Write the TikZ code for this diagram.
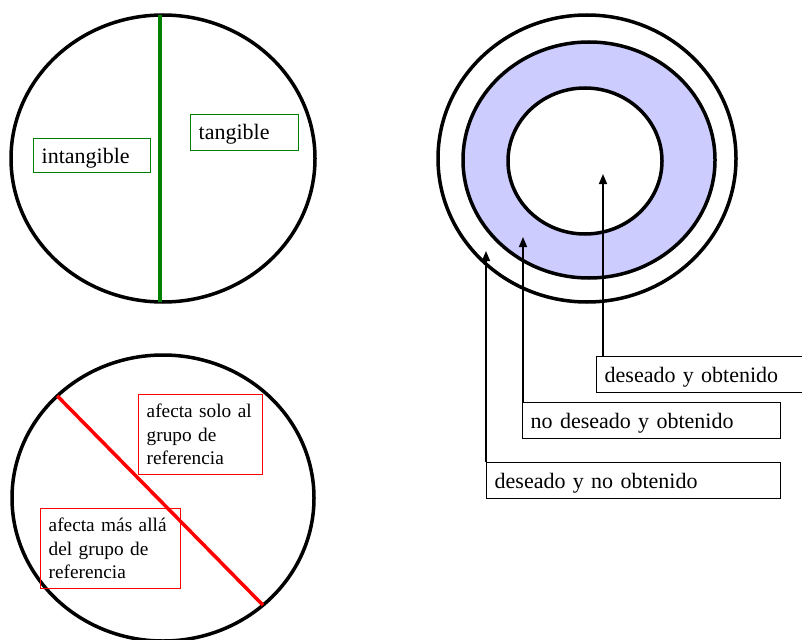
\documentclass[tikz,border=0pt]{standalone}
\usepackage{fontspec}
\setmainfont{Liberation Serif}
\usetikzlibrary{arrows.meta,shapes.geometric}
\definecolor{lila}{HTML}{CCCCFF}
\definecolor{verde}{HTML}{008000}
\begin{document}
\begin{tikzpicture}[x=1pt,y=-1pt,
    circ/.style={draw, ellipse, line width=3.5pt, inner sep=0pt, outer sep=0pt},
    caja/.style={draw, anchor=north west, line width=1.4pt, inner xsep=8pt, inner ysep=0pt, align=left, text height=20pt, text depth=4pt, font=\fontsize{22}{26}\selectfont},
    cajaroja/.style={draw=red, anchor=north west, line width=1.4pt, inner xsep=8pt, inner ysep=0pt, align=left, minimum height=80pt, font=\fontsize{19.3}{23.5}\selectfont},
    flecha/.style={line width=1.6pt, -{Triangle[length=10pt,width=8pt]}}]
    \useasboundingbox (0,0) rectangle (802,639);
    \node[circ, minimum width=304pt, minimum height=287pt](A)at(163,158.5){};
    \draw[verde, line width=3.5pt]([xshift=-3pt]A.north)--([xshift=-3pt]A.south);
    \node[caja, draw=verde, text width=101pt, minimum height=34pt](intang)at(33,138){intangible};
    \node[caja, draw=verde, text width=92pt, minimum height=36pt, text height=19pt, text depth=5pt](tang)at(190,114){tangible};
    \node[circ, minimum width=302pt, minimum height=286pt](B)at(163,498){};
    \draw[red, line width=3.5pt](B.136)--(B.-47);
    \node[cajaroja, text width=108pt](solo)at(138,394){afecta solo al\\grupo de\\referencia};
    \node[cajaroja, text width=124pt](mas)at(40,508){afecta más allá\\del grupo de\\referencia};
    \node[circ, minimum width=298pt, minimum height=287pt](ext)at(587,158.5){};
    \node[circ, fill=lila, minimum width=252pt, minimum height=236pt](med)at(589,160){};
    \node[circ, fill=white, minimum width=154pt, minimum height=146pt](int)at(585,161){};
    \node[caja, text width=192pt, minimum height=36pt](dyo)at(596,356){deseado y obtenido};
    \node[caja, text width=242pt, minimum height=36pt](ndyo)at(522,402){no deseado y obtenido};
    \node[caja, text width=278pt, minimum height=36pt](dyno)at(486,462){deseado y no obtenido};
    \coordinate(p1)at(603,174);
    \coordinate(p2)at(523,237);
    \coordinate(p3)at(486,251);
    \draw[flecha](p1 |- dyo.north)--(p1);
    \draw[flecha](p2 |- ndyo.north)--(p2);
    \draw[flecha](p3 |- dyno.north)--(p3);
\end{tikzpicture}
\end{document}
